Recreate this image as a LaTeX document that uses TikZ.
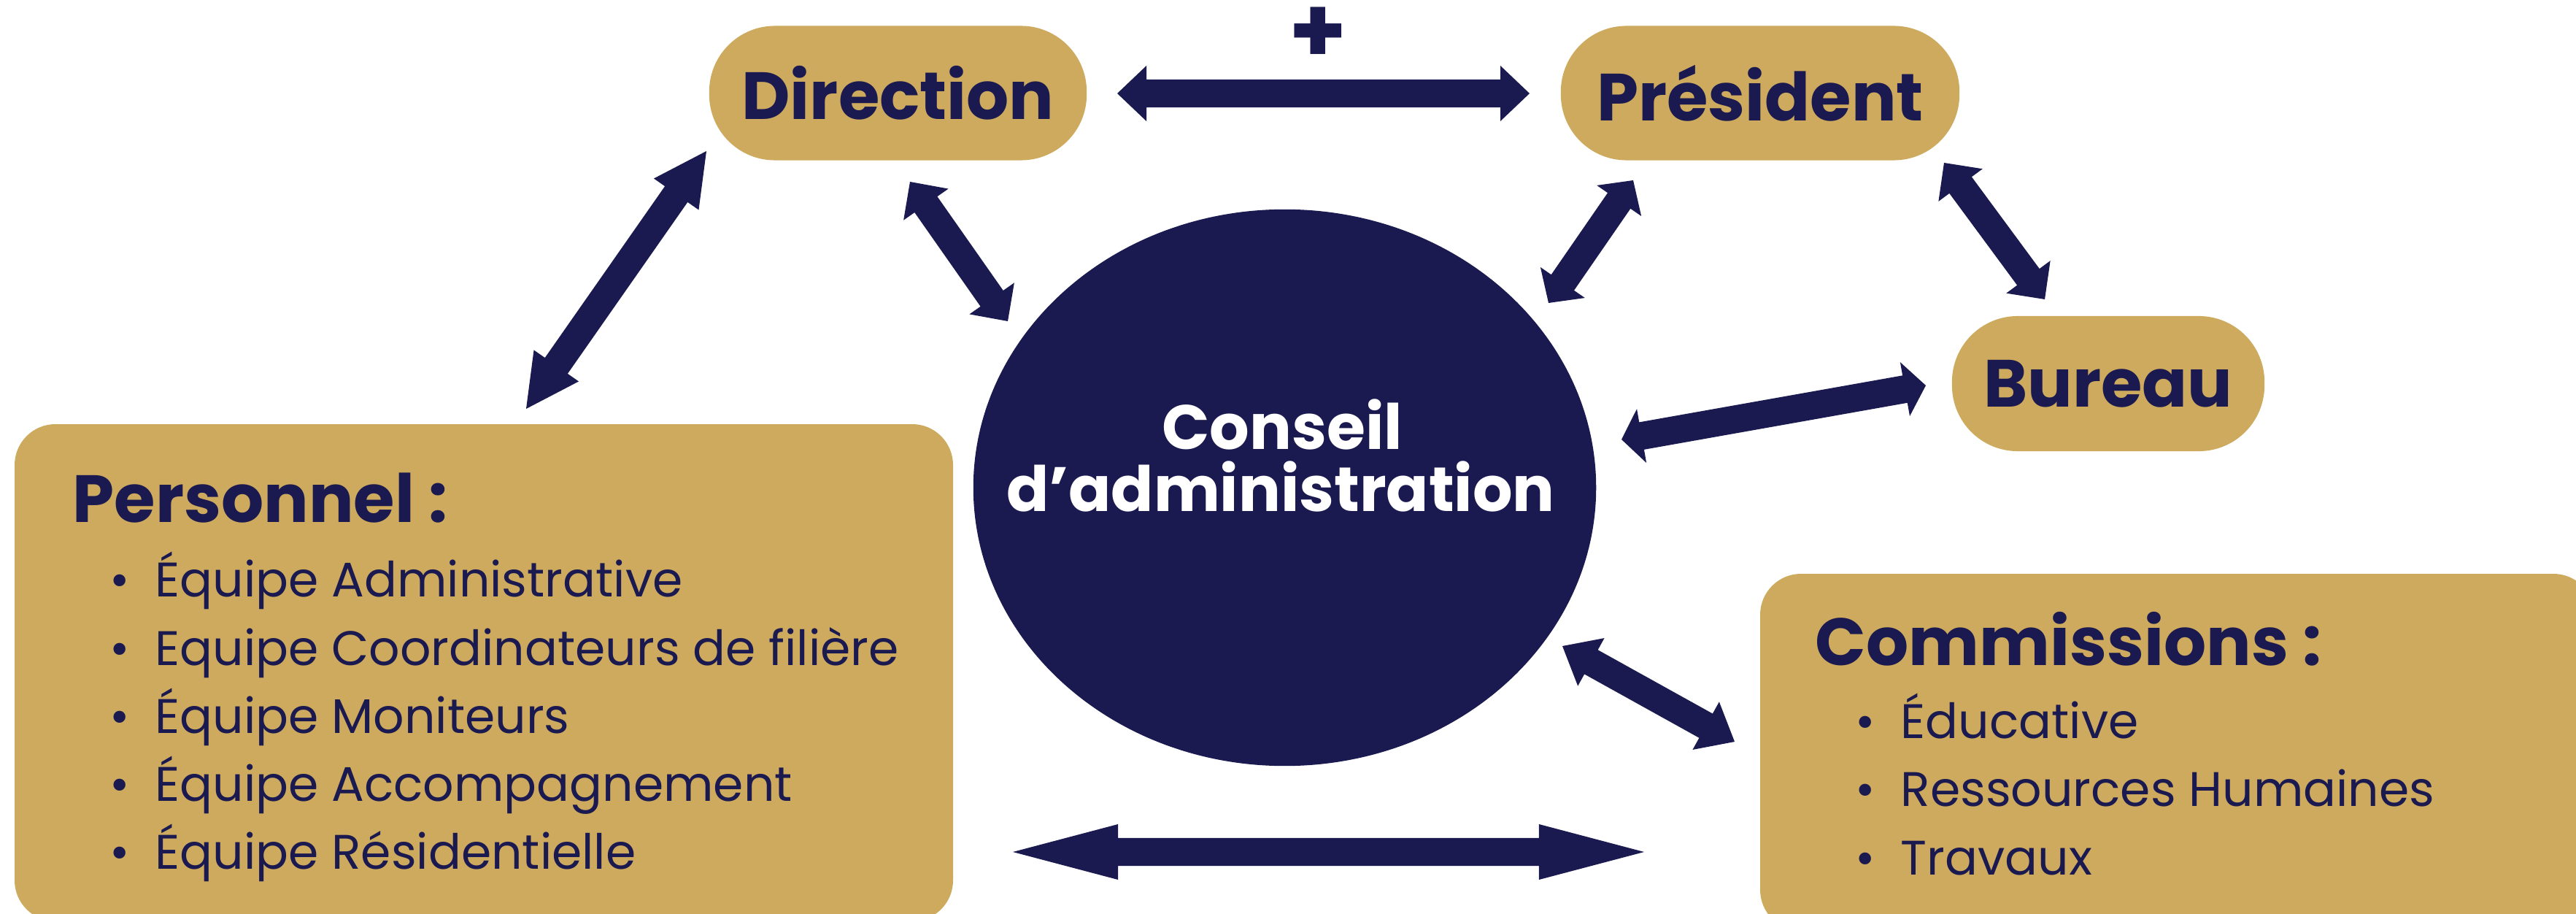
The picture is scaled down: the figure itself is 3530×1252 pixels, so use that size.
\documentclass[tikz,border=0pt]{standalone}
\usepackage{fontspec}
\setmainfont{Poppins}
\usetikzlibrary{calc,shapes.geometric}
\definecolor{navy}{HTML}{1A1A50}
\definecolor{gold}{HTML}{CEAA5E}
\newcommand\dbarrow[6]{%
  \coordinate (hA) at ($(#1)!#5!(#2)$);
  \coordinate (hB) at ($(#2)!#6!(#1)$);
  \fill[navy] (#1) -- ($(hA)!#4!90:(#2)$) -- ($(hA)!#3!90:(#2)$)
    -- ($(hB)!#3!-90:(#1)$) -- ($(hB)!#4!-90:(#1)$) -- (#2)
    -- ($(hB)!#4!90:(#1)$) -- ($(hB)!#3!90:(#1)$)
    -- ($(hA)!#3!-90:(#2)$) -- ($(hA)!#4!-90:(#2)$) -- cycle;
}
\begin{document}
\begin{tikzpicture}[x=0.01cm,y=-0.01cm,
  pill/.style={fill=gold, rounded corners=0.9cm, minimum height=1.84cm, inner sep=0pt, text=navy, font=\fontsize{26}{30}\selectfont\bfseries},
  panel/.style={fill=gold, rounded corners=0.56cm},
  titletext/.style={anchor=base west, inner sep=0pt, text=navy, font=\fontsize{26}{30}\selectfont\bfseries},
  itemtext/.style={anchor=base west, inner sep=0pt, text=navy, font=\fontsize{18.9}{22}\selectfont},
  cstext/.style={anchor=base, inner sep=0pt, text=white, font=\fontsize{24.4}{28}\selectfont\bfseries}]
\useasboundingbox (0,0) rectangle (3530,1252);
\fill[white] (0,0) rectangle (3530,1252);

% pills
\node[pill, minimum width=5.17cm] (direction) at (1230.5,127.5) {Direction};
\node[pill, minimum width=5.46cm] (president) at (2412,127.5) {Président};
\node[pill, minimum width=4.28cm, minimum height=1.85cm] (bureau) at (2889,525.5) {Bureau};

% panels
\path[panel] (20,581) rectangle (1306,1262);
\node[titletext] (perso) at (99,715) {Personnel :};
\node[itemtext] (p1) at (150,817) {\makebox[0.62cm][l]{•}Équipe Administrative};
\node[itemtext] (p2) at (150,911) {\makebox[0.62cm][l]{•}Equipe Coordinateurs de filière};
\node[itemtext] (p3) at (150,1004) {\makebox[0.62cm][l]{•}Équipe Moniteurs};
\node[itemtext] (p4) at (150,1097) {\makebox[0.62cm][l]{•}Équipe Accompagnement};
\node[itemtext] (p5) at (150,1190) {\makebox[0.62cm][l]{•}Équipe Résidentielle};

\path[panel] (2412,786) rectangle (3555,1275);
\node[titletext] (comm) at (2487,911) {Commissions :};
\node[itemtext] (c1) at (2542,1011) {\makebox[0.62cm][l]{•}Éducative};
\node[itemtext] (c2) at (2542,1104) {\makebox[0.62cm][l]{•}Ressources Humaines};
\node[itemtext] (c3) at (2542,1198) {\makebox[0.62cm][l]{•}Travaux};

% conseil
\node[ellipse, fill=navy, minimum width=8.53cm, minimum height=7.62cm, inner sep=0pt] (conseil) at (1760.5,668) {};
\node[cstext] (cs1) at (1757,615) {Conseil};
\node[cstext] (cs2) at (1755,700) {d’administration};

% plus
\node[inner sep=0pt, text=navy, font=\fontsize{36}{40}\selectfont\bfseries] (plus) at (1806,48) {+};

% arrow end points
\coordinate (t1) at (1531,128); \coordinate (t2) at (2096,128);
\coordinate (dp1) at (968,207); \coordinate (dp2) at (721,560);
\coordinate (dc1) at (1247,249); \coordinate (dc2) at (1381,440);
\coordinate (pc1) at (2238,247); \coordinate (pc2) at (2122,415);
\coordinate (pb1) at (2664,223); \coordinate (pb2) at (2802,410);
\coordinate (cb1) at (2222,602); \coordinate (cb2) at (2639,528);
\coordinate (cc1) at (2141,885); \coordinate (cc2) at (2377,1016);
\coordinate (b1) at (1388,1167); \coordinate (b2) at (2253,1167);

\dbarrow{t1}{t2}{0.19cm}{0.38cm}{0.40cm}{0.40cm}
\dbarrow{dp1}{dp2}{0.19cm}{0.375cm}{0.72cm}{0.72cm}
\dbarrow{dc1}{dc2}{0.19cm}{0.375cm}{0.38cm}{0.38cm}
\dbarrow{pc1}{pc2}{0.19cm}{0.37cm}{0.34cm}{0.34cm}
\dbarrow{pb1}{pb2}{0.19cm}{0.375cm}{0.38cm}{0.38cm}
\dbarrow{cb1}{cb2}{0.19cm}{0.375cm}{0.28cm}{0.29cm}
\dbarrow{cc1}{cc2}{0.19cm}{0.375cm}{0.45cm}{0.45cm}
\dbarrow{b1}{b2}{0.19cm}{0.38cm}{1.44cm}{1.44cm}
\end{tikzpicture}
\end{document}
